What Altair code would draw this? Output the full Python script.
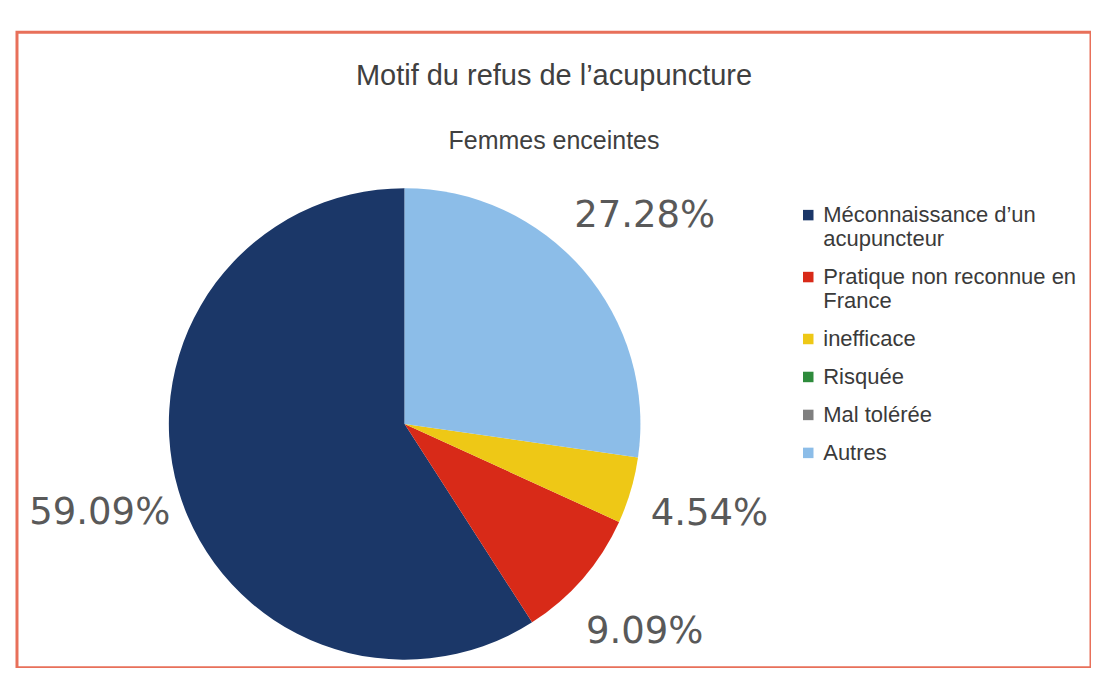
import altair as alt
import pandas as pd

categories = [
    "Méconnaissance d’un acupuncteur",
    "Pratique non reconnue en France",
    "inefficace",
    "Risquée",
    "Mal tolérée",
    "Autres",
]
values = [59.09, 9.09, 4.54, 0.0, 0.0, 27.28]
colors = ["#1b3768", "#d82a18", "#eec816", "#2e8b3c", "#7f7f7f", "#8cbde8"]

df = pd.DataFrame({
    "cat": categories,
    "value": values,
    "idx": list(range(len(categories))),
})

W, H = 1075, 636
CX, CY, R = 388, 392, 236

base = alt.Chart(df).encode(
    theta=alt.Theta("value:Q", stack=True),
    order=alt.Order("idx:Q", sort="descending"),
)

pie = base.mark_arc(outerRadius=R).encode(
    x=alt.value(CX),
    y=alt.value(CY),
    color=alt.Color(
        "cat:N",
        scale=alt.Scale(domain=categories, range=colors),
        legend=alt.Legend(
            title=None,
            orient="none",
            legendX=781,
            legendY=172,
            symbolType="square",
            symbolSize=110,
            symbolStrokeWidth=0,
            labelFont="Liberation Sans",
            labelFontSize=22,
            labelColor="#3a3a3a",
            labelLimit=400,
            labelOffset=4,
            rowPadding=16,
            padding=0,
            labelExpr="split(replace(replace(datum.label, / acupuncteur/, '|acupuncteur'), / France/, '|France'), '|')",
        ),
    ),
)

labels = base.transform_filter("datum.value > 0").transform_calculate(
    lab="format(datum.value, '.2f') + '%'"
).mark_text(
    radius=318,
    font="DejaVu Sans",
    fontSize=37,
    color="#595959",
).encode(
    x=alt.value(CX),
    y=alt.value(CY),
    text="lab:N",
)

chart = alt.layer(pie, labels).properties(
    width=W,
    height=H,
    padding={"left": 9, "top": 24, "right": 0, "bottom": 0},
    background="white",
    title=alt.TitleParams(
        text="Motif du refus de l’acupuncture",
        subtitle="Femmes enceintes",
        anchor="middle",
        offset=-122,
        font="Liberation Sans",
        fontSize=29,
        fontWeight="normal",
        color="#404040",
        subtitleFont="Liberation Sans",
        subtitleFontSize=25,
        subtitleColor="#404040",
        subtitlePadding=38,
    ),
).configure_view(
    stroke="#e8705a",
    strokeWidth=3,
)

chart.save("out.html", embed_options={"renderer": "svg", "actions": False})
